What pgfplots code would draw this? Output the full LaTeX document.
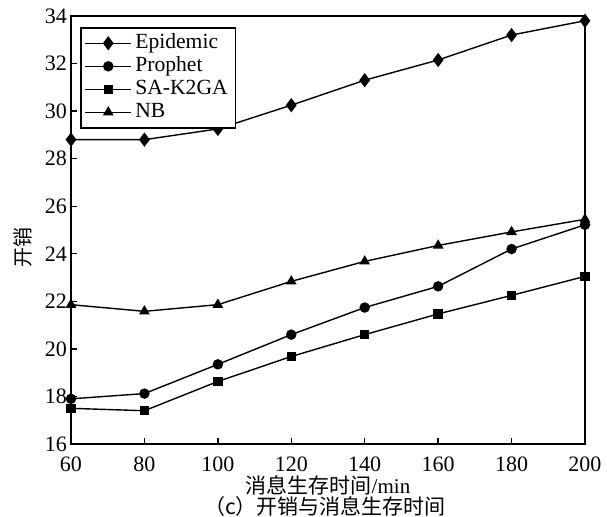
\documentclass[border=0pt]{standalone}
\usepackage{fontspec}
\setmainfont{Liberation Serif}
\newfontfamily\cjk{Noto Sans CJK SC}
\usepackage{pgfplots}
\pgfplotsset{compat=1.18}

\begin{document}
\begin{tikzpicture}
\begin{axis}[
  scale only axis,
  width=257pt, height=214pt,
  xmin=60, xmax=200, ymin=16, ymax=34,
  xtick={60,80,...,200}, ytick={16,18,...,34},
  tick align=inside, xtick pos=bottom, ytick pos=left,
  major tick length=3pt,
  axis line style={line width=0.8pt},
  every tick/.style={black, line width=0.7pt},
  /pgf/number format/assume math mode=true,
  tick label style={font=\fontsize{11}{12}\selectfont},
  xticklabel style={yshift=-3pt},
  yticklabel style={xshift=1.5pt},
  ylabel={\cjk 开销},
  ylabel style={at={(axis description cs:-0.094,0.46)}, anchor=center, inner sep=0pt, font=\fontsize{10}{12}\selectfont},
  xlabel={\cjk 消息生存时间\rmfamily/min},
  xlabel style={at={(axis description cs:0.5,-0.097)}, anchor=center, inner sep=0pt, font=\fontsize{10.5}{12}\selectfont},
  legend style={at={(0,1)}, anchor=north west, xshift=4.5pt, yshift=-5.5pt,
    draw=black, line width=0.8pt, font=\fontsize{10.8}{12}\selectfont,
    inner sep=2pt, row sep=0pt,
    nodes={inner xsep=1.8pt, inner ysep=0.8pt, text height=7.6pt, text depth=2.3pt},
    cells={anchor=west}},
  legend cell align=left,
  legend image code/.code={\draw[mark repeat=2,mark phase=2] plot coordinates {(0cm,0cm) (0.4cm,0cm) (0.8cm,0cm)};},
  every axis plot/.append style={black, line width=0.7pt, mark options={solid, fill=black}},
  clip=false,
]
\addplot[mark=diamond*, mark size=3pt] coordinates {
  (60,28.8) (80,28.8) (100,29.25) (120,30.25) (140,31.3) (160,32.15) (180,33.2) (200,33.8)};
\addlegendentry{Epidemic}
\addplot[mark=*, mark size=2.25pt] coordinates {
  (60,17.9) (80,18.12) (100,19.35) (120,20.6) (140,21.74) (160,22.63) (180,24.2) (200,25.22)};
\addlegendentry{Prophet}
\addplot[mark=square*, mark size=2pt] coordinates {
  (60,17.5) (80,17.4) (100,18.63) (120,19.68) (140,20.6) (160,21.47) (180,22.25) (200,23.05)};
\addlegendentry{SA-K2GA}
\addplot[mark=triangle*, mark size=2.4pt] coordinates {
  (60,21.86) (80,21.58) (100,21.86) (120,22.84) (140,23.68) (160,24.35) (180,24.92) (200,25.45)};
\addlegendentry{NB}
\node[font=\fontsize{10.5}{12}\selectfont, inner sep=0pt] at (axis description cs:0.494,-0.145) {\cjk （c）开销与消息生存时间};
\end{axis}
% page frame
\pgfresetboundingbox
\useasboundingbox (-35.5pt,-36pt) rectangle (268pt,222pt);
\end{tikzpicture}
\end{document}
